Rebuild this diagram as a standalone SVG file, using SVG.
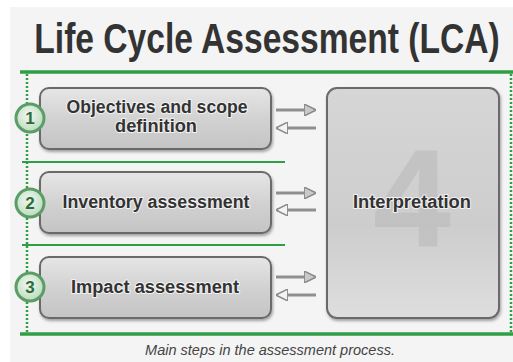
<svg xmlns="http://www.w3.org/2000/svg" width="513" height="362" viewBox="0 0 513 362">
  <defs>
    <linearGradient id="boxFill" x1="0" y1="0" x2="0" y2="1">
      <stop offset="0" stop-color="#e6e6e6"/>
      <stop offset="0.5" stop-color="#d2d2d2"/>
      <stop offset="1" stop-color="#c4c4c4"/>
    </linearGradient>
    <linearGradient id="bigFill" x1="0" y1="0" x2="0" y2="1">
      <stop offset="0" stop-color="#d6d6d6"/>
      <stop offset="0.6" stop-color="#cdcdcd"/>
      <stop offset="1" stop-color="#dedede"/>
    </linearGradient>
    <radialGradient id="badgeFill" cx="0.45" cy="0.4" r="0.65">
      <stop offset="0" stop-color="#f0f8f0"/>
      <stop offset="1" stop-color="#b9d9bb"/>
    </radialGradient>
    <filter id="shadow" x="-10%" y="-10%" width="125%" height="130%">
      <feGaussianBlur in="SourceAlpha" stdDeviation="1.5"/>
      <feOffset dx="1" dy="2" result="b"/>
      <feComponentTransfer><feFuncA type="linear" slope="0.35"/></feComponentTransfer>
      <feMerge><feMergeNode/><feMergeNode in="SourceGraphic"/></feMerge>
    </filter>
    <marker id="head" viewBox="0 0 10 10" refX="9" refY="5" markerWidth="4" markerHeight="4" orient="auto">
      <path d="M0,0 L10,5 L0,10 Z" fill="#c9c9c9" stroke="#8a8a8a" stroke-width="1.2"/>
    </marker>
    <marker id="headOpen" viewBox="0 0 10 10" refX="9" refY="5" markerWidth="4" markerHeight="4" orient="auto">
      <path d="M0,0 L10,5 L0,10 Z" fill="#f4f4f4" stroke="#8a8a8a" stroke-width="1.2"/>
    </marker>
  </defs>
  <style>
    .title { font-family: "Liberation Sans", Arial, sans-serif; font-weight: bold; font-size: 42px; fill: #333; text-anchor: middle; }
    .step { fill: url(#boxFill); stroke: #6a6a6a; stroke-width: 2; }
    .label { font-family: "Liberation Sans", Arial, sans-serif; font-weight: bold; font-size: 18px; fill: #333; text-anchor: middle; stroke: #f2f2f2; stroke-width: 2; paint-order: stroke; }
    .badge { fill: url(#badgeFill); stroke: #5a9e66; stroke-width: 3; }
    .num { font-family: "Liberation Sans", Arial, sans-serif; font-weight: bold; font-size: 17px; fill: #2e6b3a; text-anchor: middle; }
    .rule { stroke: #2f9e44; }
    .dots { stroke: #2f9e44; stroke-width: 2.5; stroke-dasharray: 2 2; }
    .fwd { stroke: #8f8f8f; stroke-width: 3; fill: none; marker-end: url(#head); }
    .back { stroke: #8f8f8f; stroke-width: 3; fill: none; marker-end: url(#headOpen); }
    .caption { font-family: "Liberation Sans", Arial, sans-serif; font-style: italic; font-size: 14.5px; fill: #444; text-anchor: middle; }
  </style>

  <!-- page -->
  <rect x="0" y="0" width="513" height="362" fill="#ffffff"/>
  <rect x="10" y="7" width="503" height="355" fill="#f4f4f4"/>

  <!-- heading, squeezed horizontally to a condensed look -->
  <text class="title" transform="translate(267,53) scale(0.8,1)" x="0" y="0">Life Cycle Assessment (LCA)</text>

  <!-- frame rules -->
  <g id="frame">
    <line class="rule" x1="20" y1="72" x2="513" y2="72" stroke-width="3.5"/>
    <line class="rule" x1="20" y1="334" x2="513" y2="334" stroke-width="3.5"/>
    <line class="rule" x1="22" y1="162" x2="285" y2="162" stroke-width="2"/>
    <line class="rule" x1="22" y1="245" x2="285" y2="245" stroke-width="2"/>
    <line class="dots" x1="27" y1="74" x2="27" y2="333"/>
    <line class="dots" x1="511" y1="74" x2="511" y2="333"/>
  </g>

  <!-- interpretation -->
  <g id="interpretation">
    <rect x="327" y="88" width="172" height="230" rx="10" fill="url(#bigFill)" stroke="#6a6a6a" stroke-width="2" filter="url(#shadow)"/>
    <text x="412" y="247" font-family="Liberation Sans, Arial, sans-serif" font-weight="bold" font-size="140" fill="#b8b8b8" fill-opacity="0.55" text-anchor="middle">4</text>
    <text class="label" x="412" y="208" textLength="118" lengthAdjust="spacingAndGlyphs">Interpretation</text>
  </g>

  <!-- step 1 -->
  <g id="step1">
    <rect class="step" x="40" y="88" width="231" height="61" rx="9" filter="url(#shadow)"/>
    <text class="label" x="157" y="113" textLength="181" lengthAdjust="spacingAndGlyphs">Objectives and scope</text>
    <text class="label" x="156" y="132" textLength="82" lengthAdjust="spacingAndGlyphs">definition</text>
    <circle class="badge" cx="30" cy="118" r="14"/>
    <text class="num" x="30" y="124">1</text>
  </g>

  <!-- step 2 -->
  <g id="step2">
    <rect class="step" x="40" y="172" width="231" height="61" rx="9" filter="url(#shadow)"/>
    <text class="label" x="156" y="208" textLength="187" lengthAdjust="spacingAndGlyphs">Inventory assessment</text>
    <circle class="badge" cx="30" cy="203" r="14"/>
    <text class="num" x="30" y="209">2</text>
  </g>

  <!-- step 3 -->
  <g id="step3">
    <rect class="step" x="40" y="257" width="231" height="61" rx="9" filter="url(#shadow)"/>
    <text class="label" x="155" y="293" textLength="168" lengthAdjust="spacingAndGlyphs">Impact assessment</text>
    <circle class="badge" cx="30" cy="287" r="14"/>
    <text class="num" x="30" y="293">3</text>
  </g>

  <!-- connectors -->
  <g id="connectors">
    <line class="fwd" x1="276" y1="110" x2="315" y2="110"/>
    <line class="back" x1="316" y1="128" x2="277" y2="128"/>
    <line class="fwd" x1="276" y1="193" x2="315" y2="193"/>
    <line class="back" x1="316" y1="210" x2="277" y2="210"/>
    <line class="fwd" x1="276" y1="277" x2="315" y2="277"/>
    <line class="back" x1="316" y1="295" x2="277" y2="295"/>
  </g>

  <text class="caption" x="270" y="355">Main steps in the assessment process.</text>
</svg>
